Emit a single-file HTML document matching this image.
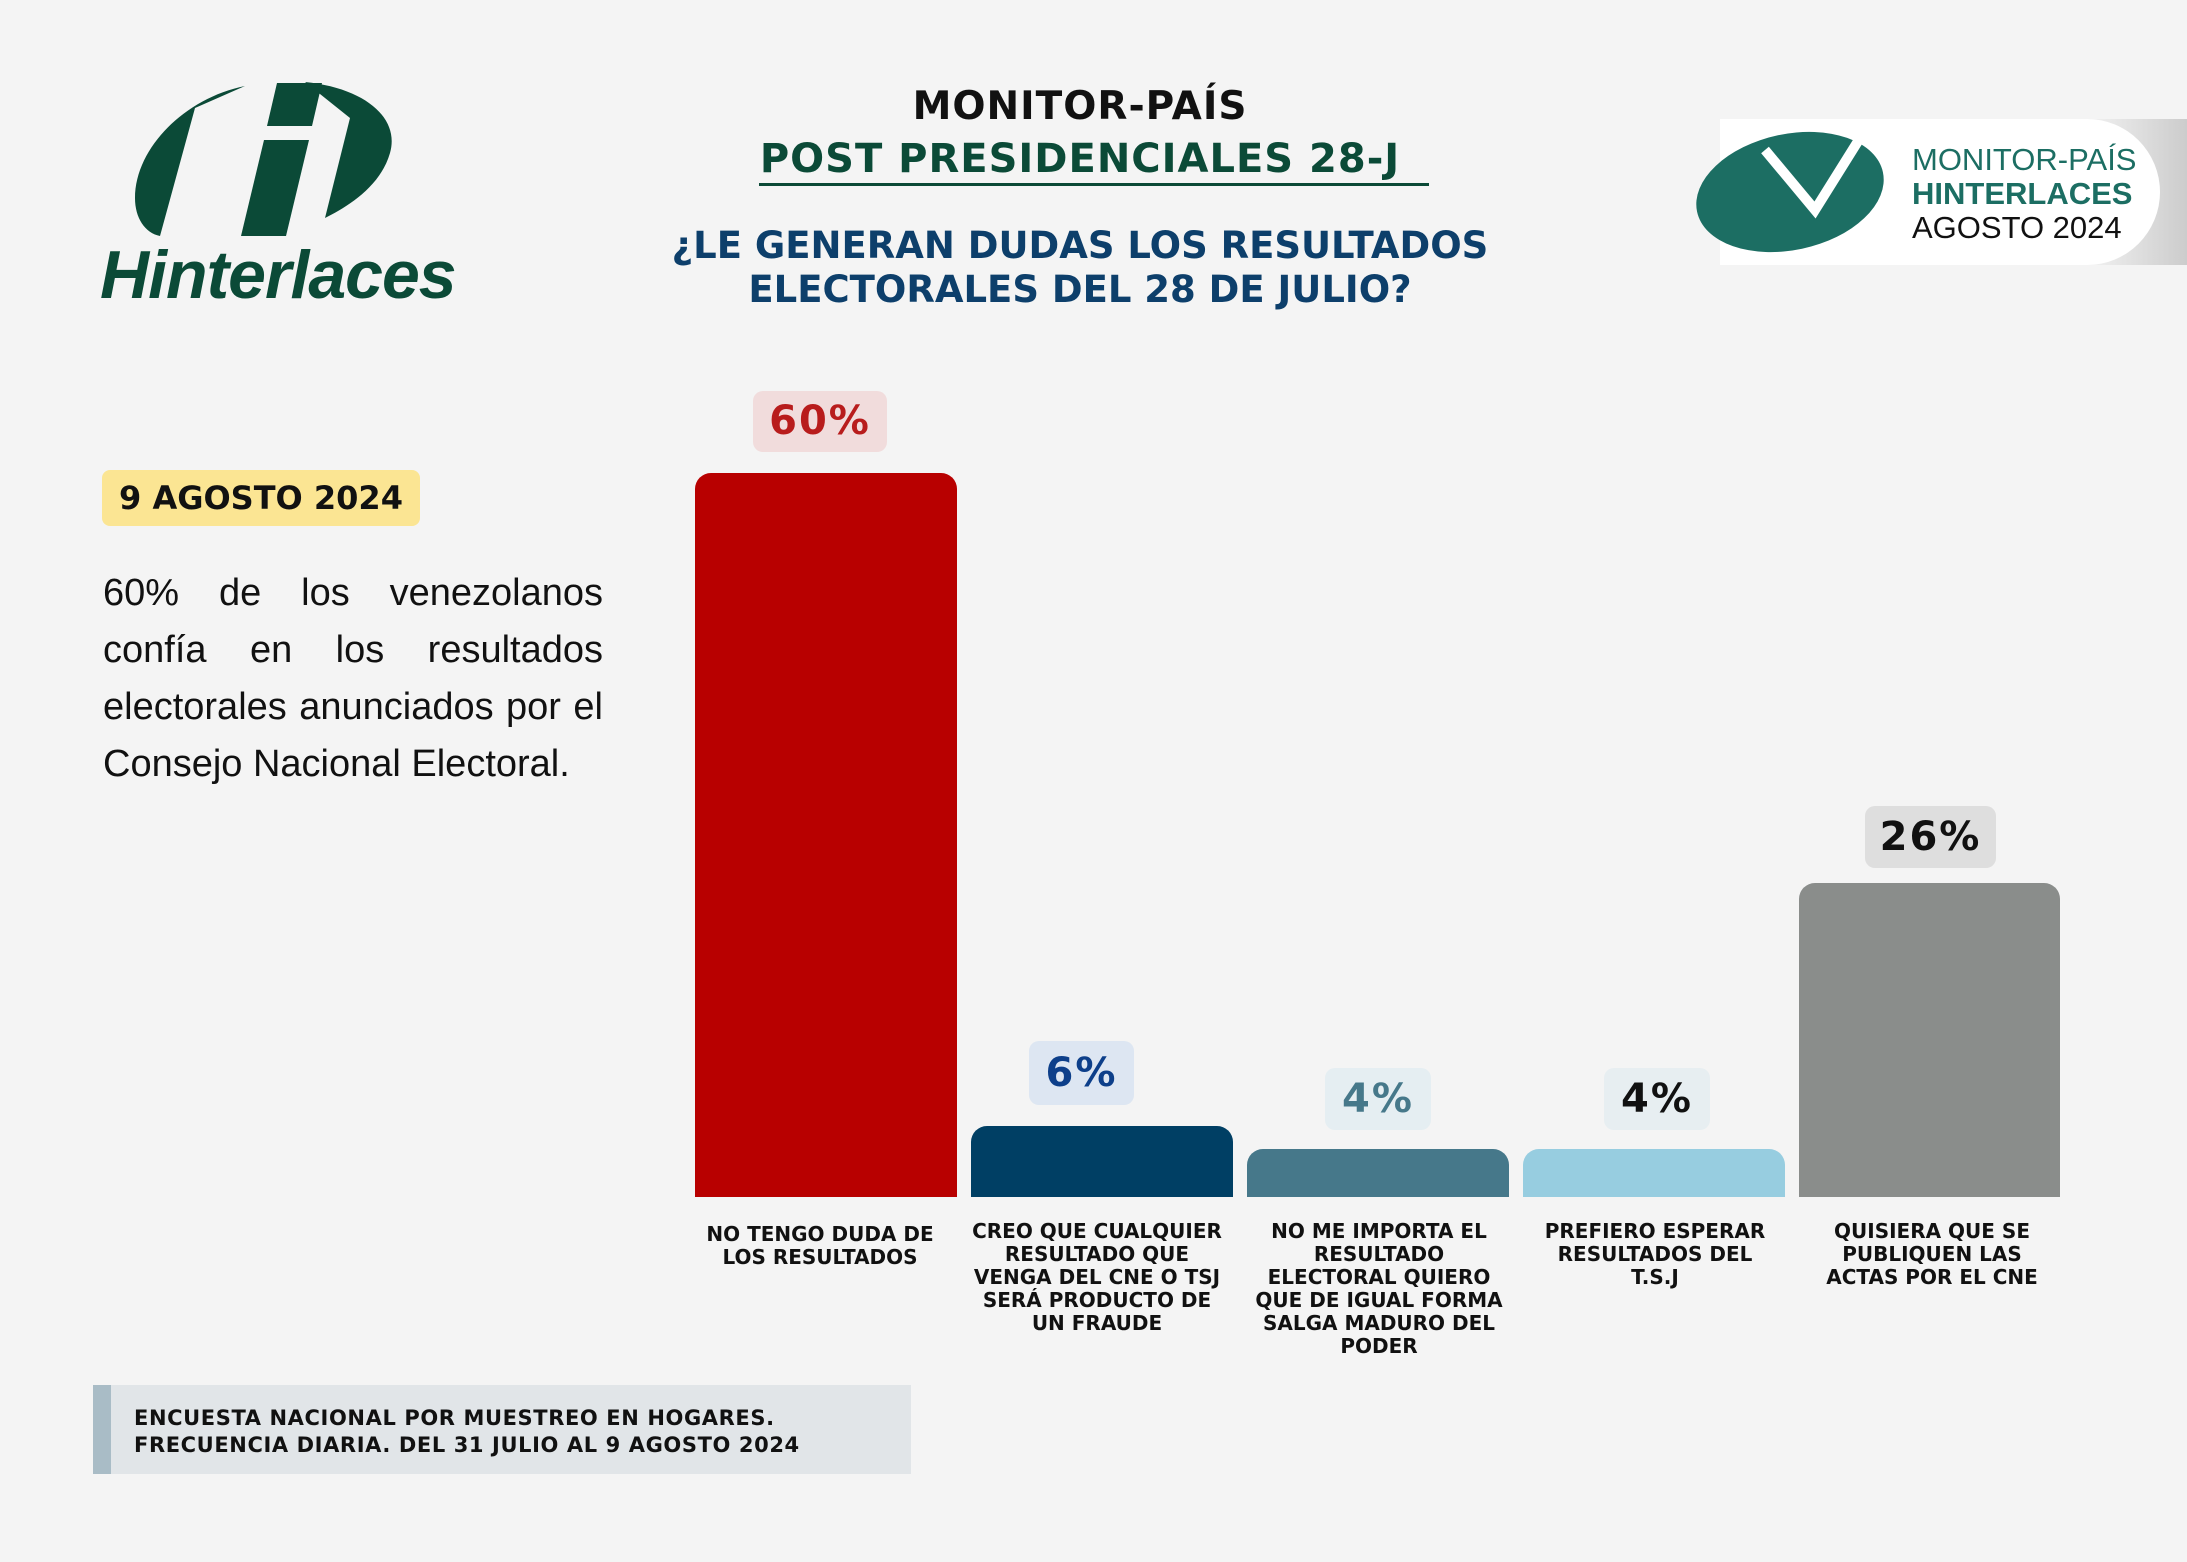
<!DOCTYPE html>
<html><head><meta charset="utf-8"><style>
*{margin:0;padding:0;box-sizing:border-box}
body{width:2187px;height:1562px;background:#f4f4f4;position:relative;overflow:hidden;font-family:"DejaVu Sans","Liberation Sans",sans-serif}
.a{position:absolute}
.c{text-align:center;font-weight:bold}
.bar{position:absolute;border-radius:16px 16px 0 0}
.pb{position:absolute;border-radius:10px;text-align:center;font-weight:bold;font-size:40px;letter-spacing:2px}
.lab{position:absolute;text-align:center;font-weight:bold;font-size:20px;line-height:23px;color:#111;width:290px}
</style></head><body>
<!-- left logo -->
<svg class="a" style="left:125px;top:78px" width="280" height="170" viewBox="0 0 280 170">
<path d="M120 8 C60 20 10 70 10 120 C10 140 20 155 35 158 L70 30 Z" fill="#0b4a37"/>
<path d="M180 4 C240 10 275 40 265 75 C255 110 220 130 200 140 L225 40 Z" fill="#0b4a37"/>
<polygon points="152,5 197,5 187,48 142,48" fill="#0b4a37"/>
<polygon points="139,62 184,62 161,158 116,158" fill="#0b4a37"/>
</svg>
<div class="a" style="left:100px;top:236px;font-family:'Liberation Sans',sans-serif;font-size:68px;font-weight:bold;font-style:italic;color:#0b4a37;letter-spacing:-1px">Hinterlaces</div>
<!-- titles -->
<div class="a c" style="left:580px;width:1000px;top:84px;font-size:39px;color:#111;letter-spacing:1px">MONITOR-PAÍS</div>
<div class="a c" style="left:580px;width:1000px;top:136px;font-size:40px;color:#0b4a37;letter-spacing:1px">POST PRESIDENCIALES 28-J</div>
<div class="a" style="left:759px;top:183px;width:670px;height:3px;background:#0b4a37"></div>
<div class="a c" style="left:480px;width:1200px;top:224px;font-size:37px;line-height:44px;color:#0d3f6b">¿LE GENERAN DUDAS LOS RESULTADOS<br>ELECTORALES DEL 28 DE JULIO?</div>
<!-- right logo -->
<div class="a" style="left:1740px;top:119px;width:447px;height:146px;background:linear-gradient(90deg,#fff 70%,#ccc)"></div>
<div class="a" style="left:1720px;top:119px;width:440px;height:146px;background:#fff;border-radius:0 73px 73px 0"></div>
<svg class="a" style="left:1695px;top:120px" width="200" height="135" viewBox="0 0 200 135"><ellipse cx="95" cy="72" rx="95" ry="58" fill="#1c6e63" transform="rotate(-12 95 72)"/><path d="M70 30 L120 90 L170 10" stroke="#fff" stroke-width="10" fill="none"/></svg>
<div class="a" style="left:1912px;width:330px;top:143px;font-family:'Liberation Sans',sans-serif;font-size:31px;line-height:34px;color:#1c6e63">MONITOR-PAÍS<br><b>HINTERLACES</b><br><span style="color:#111">AGOSTO 2024</span></div>
<!-- left text -->
<div class="a" style="left:102px;top:470px;width:318px;height:56px;background:#fbe593;border-radius:8px;font-weight:bold;font-size:32px;line-height:56px;text-align:center;color:#111">9 AGOSTO 2024</div>
<div class="a" style="left:103px;top:565px;width:500px;font-family:'Liberation Sans Narrow','Liberation Sans',sans-serif;font-size:38px;line-height:57px;text-align:justify;color:#111">60% de los venezolanos confía en los resultados electorales anunciados por el Consejo Nacional Electoral.</div>
<!-- bars -->
<div class="bar" style="left:695px;top:473px;width:262px;height:724px;background:#b80000"></div>
<div class="bar" style="left:971px;top:1126px;width:262px;height:71px;background:#003f64"></div>
<div class="bar" style="left:1247px;top:1149px;width:262px;height:48px;background:#46788a"></div>
<div class="bar" style="left:1523px;top:1149px;width:262px;height:48px;background:#97cde0"></div>
<div class="bar" style="left:1799px;top:883px;width:261px;height:314px;background:#8a8d8b"></div>
<div class="pb" style="left:753px;top:391px;width:134px;height:61px;line-height:61px;background:#f1dcdc;color:#b81c1c">60%</div>
<div class="pb" style="left:1029px;top:1041px;width:105px;height:64px;line-height:64px;background:#dde6f2;color:#0d3f8a">6%</div>
<div class="pb" style="left:1325px;top:1068px;width:106px;height:62px;line-height:62px;background:#e5eef2;color:#46788a">4%</div>
<div class="pb" style="left:1604px;top:1068px;width:106px;height:62px;line-height:62px;background:#e7eef1;color:#111">4%</div>
<div class="pb" style="left:1865px;top:806px;width:131px;height:62px;line-height:62px;background:#dedede;color:#111">26%</div>
<div class="lab" style="left:675px;top:1223px">NO TENGO DUDA DE<br>LOS RESULTADOS</div>
<div class="lab" style="left:952px;top:1220px">CREO QUE CUALQUIER<br>RESULTADO QUE<br>VENGA DEL CNE O TSJ<br>SERÁ PRODUCTO DE<br>UN FRAUDE</div>
<div class="lab" style="left:1234px;top:1220px">NO ME IMPORTA EL<br>RESULTADO<br>ELECTORAL QUIERO<br>QUE DE IGUAL FORMA<br>SALGA MADURO DEL<br>PODER</div>
<div class="lab" style="left:1510px;top:1220px">PREFIERO ESPERAR<br>RESULTADOS DEL<br>T.S.J</div>
<div class="lab" style="left:1787px;top:1220px">QUISIERA QUE SE<br>PUBLIQUEN LAS<br>ACTAS POR EL CNE</div>
<!-- footer -->
<div class="a" style="left:93px;top:1385px;width:818px;height:89px;background:#e1e5e8;border-left:18px solid #a9bcc6"></div>
<div class="a" style="left:134px;top:1405px;font-weight:bold;font-size:21px;line-height:27px;color:#111;letter-spacing:0.6px">ENCUESTA NACIONAL POR MUESTREO EN HOGARES.<br>FRECUENCIA DIARIA. DEL 31 JULIO AL 9 AGOSTO 2024</div>
</body></html>
